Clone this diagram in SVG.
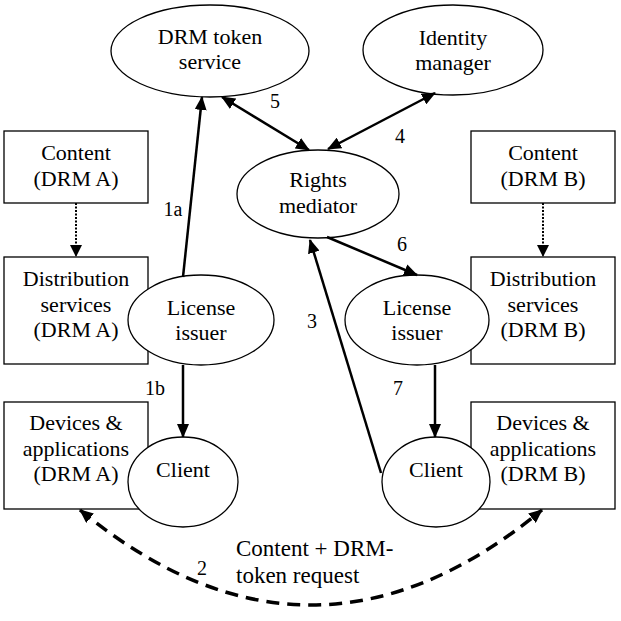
<svg xmlns="http://www.w3.org/2000/svg" width="621" height="621" viewBox="0 0 621 621">
<defs>
<style>
.node{fill:#fff;stroke:#000;stroke-width:1.3}
.t{font-size:22px;text-anchor:middle}
.lbl{font-size:20px;text-anchor:middle}
.ann{font-size:23px}
.arr{fill:none;stroke:#000;stroke-width:2.5}
.dot{fill:none;stroke:#000;stroke-width:2;stroke-dasharray:2 1.5}
.dash{fill:none;stroke:#000;stroke-width:3.5;stroke-dasharray:13 8}
</style>
<marker id="ah" markerUnits="userSpaceOnUse" markerWidth="14" markerHeight="12" viewBox="0 0 14 12" refX="13" refY="6" orient="auto-start-reverse">
<path d="M0,0 L14,6 L0,12 z" fill="#000"/>
</marker>
<marker id="ahs" markerUnits="userSpaceOnUse" markerWidth="12" markerHeight="12" viewBox="0 0 12 12" refX="11" refY="6" orient="auto">
<path d="M0,0 L12,6 L0,12 z" fill="#000"/>
</marker>
</defs>
<rect width="621" height="621" fill="#fff"/>
<g font-family="Liberation Serif, Tinos, Nimbus Roman, DejaVu Serif, Noto Serif, serif" fill="#000">
<g id="content-a"><rect class="node" x="4" y="131" width="144" height="72"/><text class="t" x="76" y="160">Content</text><text class="t" x="76" y="186">(DRM A)</text></g>
<g id="content-b"><rect class="node" x="471" y="131" width="144" height="72"/><text class="t" x="543" y="160">Content</text><text class="t" x="543" y="186">(DRM B)</text></g>
<g id="dist-a"><rect class="node" x="4" y="257" width="144" height="107"/><text class="t" x="76" y="286">Distribution</text><text class="t" x="76" y="312">services</text><text class="t" x="76" y="337">(DRM A)</text></g>
<g id="dist-b"><rect class="node" x="471" y="257" width="144" height="107"/><text class="t" x="543" y="286">Distribution</text><text class="t" x="543" y="312">services</text><text class="t" x="543" y="337">(DRM B)</text></g>
<g id="dev-a"><rect class="node" x="4" y="402" width="144" height="107"/><text class="t" x="76" y="430">Devices &amp;</text><text class="t" x="76" y="456">applications</text><text class="t" x="76" y="481">(DRM A)</text></g>
<g id="dev-b"><rect class="node" x="471" y="402" width="144" height="107"/><text class="t" x="543" y="430">Devices &amp;</text><text class="t" x="543" y="456">applications</text><text class="t" x="543" y="481">(DRM B)</text></g>
<g id="drm-token"><ellipse class="node" cx="210" cy="51" rx="99" ry="46"/><text class="t" x="210" y="44">DRM token</text><text class="t" x="210" y="69">service</text></g>
<g id="identity"><ellipse class="node" cx="453" cy="50" rx="90" ry="45"/><text class="t" x="453" y="45">Identity</text><text class="t" x="453" y="70">manager</text></g>
<g id="rights"><ellipse class="node" cx="318" cy="194" rx="81" ry="44"/><text class="t" x="318" y="187">Rights</text><text class="t" x="318" y="213">mediator</text></g>
<g id="license-a"><ellipse class="node" cx="201" cy="320" rx="73" ry="45"/><text class="t" x="201" y="315">License</text><text class="t" x="201" y="340">issuer</text></g>
<g id="license-b"><ellipse class="node" cx="417" cy="320" rx="72" ry="45"/><text class="t" x="417" y="315">License</text><text class="t" x="417" y="340">issuer</text></g>
<g id="client-a"><ellipse class="node" cx="183" cy="482" rx="55" ry="45"/><text class="t" x="183" y="477">Client</text></g>
<g id="client-b"><ellipse class="node" cx="436" cy="482" rx="54" ry="45"/><text class="t" x="436" y="477">Client</text></g>
<g id="connectors">
<line class="dot" x1="76" y1="203" x2="76" y2="256" marker-end="url(#ahs)"/>
<line class="dot" x1="543" y1="203" x2="543" y2="256" marker-end="url(#ahs)"/>
<line class="arr" x1="183" y1="277" x2="202" y2="97" marker-end="url(#ah)"/>
<line class="arr" x1="222" y1="97" x2="309" y2="150" marker-start="url(#ah)" marker-end="url(#ah)"/>
<line class="arr" x1="435" y1="93" x2="328" y2="149" marker-start="url(#ah)" marker-end="url(#ah)"/>
<line class="arr" x1="327" y1="237" x2="417" y2="275" marker-end="url(#ah)"/>
<line class="arr" x1="381" y1="473" x2="310" y2="240" marker-end="url(#ah)"/>
<line class="arr" x1="183" y1="365" x2="183" y2="437" marker-end="url(#ah)"/>
<line class="arr" x1="435" y1="365" x2="435" y2="437" marker-end="url(#ah)"/>
<path class="dash" d="M80,510 Q311,700 542,510" marker-start="url(#ah)" marker-end="url(#ah)"/>
<text class="lbl" x="275" y="108">5</text>
<text class="lbl" x="400" y="143">4</text>
<text class="lbl" x="173" y="216">1a</text>
<text class="lbl" x="402" y="251">6</text>
<text class="lbl" x="312" y="328">3</text>
<text class="lbl" x="155" y="395">1b</text>
<text class="lbl" x="398" y="395">7</text>
<text class="lbl" x="202" y="575">2</text>
<text class="ann" x="236" y="556">Content + DRM-</text>
<text class="ann" x="236" y="583">token request</text>
</g>
</g>
</svg>
